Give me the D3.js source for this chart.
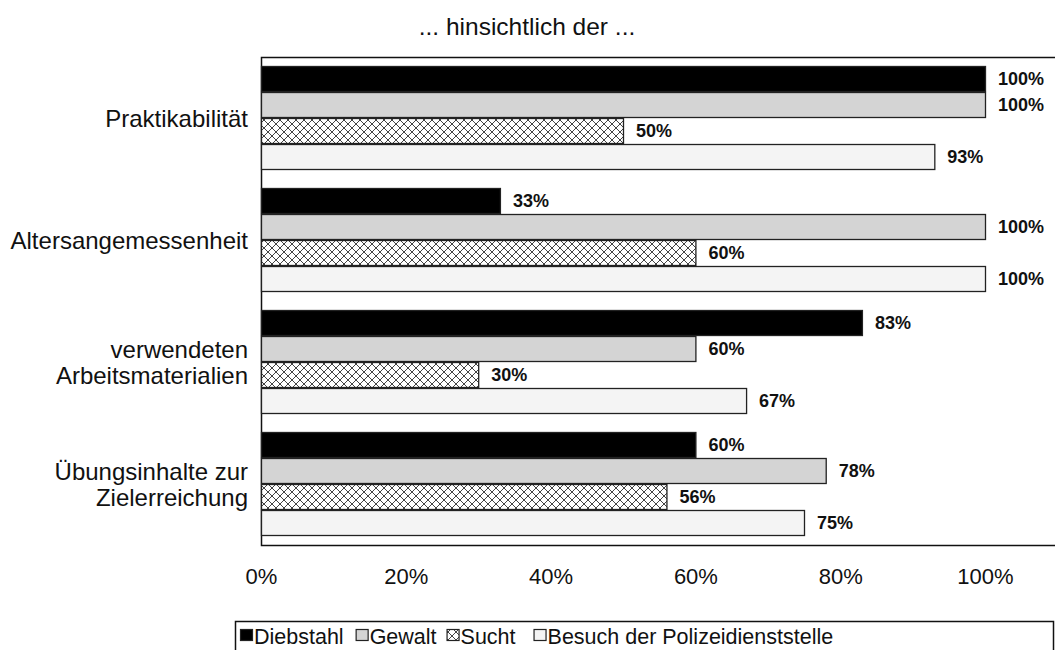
<!DOCTYPE html>
<html>
<head>
<meta charset="utf-8">
<script src="https://cdn.jsdelivr.net/npm/d3@7"></script>
<style>
  html, body { margin: 0; padding: 0; background: #fff; }
  svg { display: block; font-family: "Liberation Sans", Arial, Helvetica, sans-serif; }
</style>
</head>
<body>
<svg id="chart" width="1055" height="650"></svg>
<script>
// Categories (each label may span several lines)
const categories = ["Praktikabilität", "Altersangemessenheit", "verwendeten\nArbeitsmaterialien", "Übungsinhalte zur\nZielerreichung"];
const series = ["Diebstahl", "Gewalt", "Sucht", "Besuch der Polizeidienststelle"];
// Share per category, one array per series
const diebstahl = [1.00, 0.33, 0.83, 0.60];
const gewalt    = [1.00, 1.00, 0.60, 0.78];
const sucht     = [0.50, 0.60, 0.30, 0.56];
const besuch    = [0.93, 1.00, 0.67, 0.75];
const tickValues = [0, 0.2, 0.4, 0.6, 0.8, 1.0];
const title = "... hinsichtlich der ...";

const valuesBySeries = [diebstahl, gewalt, sucht, besuch];
const fills = ["#000000", "#d4d4d4", "url(#hatch)", "#f4f4f4"];

const svg = d3.select("#chart");
const defs = svg.append("defs");
const pat = defs.append("pattern")
  .attr("id", "hatch").attr("patternUnits", "userSpaceOnUse")
  .attr("width", 8).attr("height", 8);
pat.append("rect").attr("width", 8).attr("height", 8).attr("fill", "#fff");
pat.append("path").attr("d", "M0,0L8,8M8,0L0,8M-1,7L1,9M7,-1L9,1")
  .attr("stroke", "#444").attr("stroke-width", 1).attr("fill", "none");

const plot = { left: 261, top: 57, bottom: 545, right: 1062 };

const x = d3.scaleLinear().domain([0, 1]).range([plot.left, 985]);
const y0 = d3.scaleBand().domain(categories).range([plot.top, plot.bottom]);
const y1 = d3.scaleBand().domain(series).range([9, y0.bandwidth() - 9]);

// Title
svg.append("text")
  .attr("x", 527).attr("y", 35)
  .attr("text-anchor", "middle")
  .attr("font-size", 24.5)
  .attr("fill", "#111")
  .text(title);

// Plot frame
svg.append("rect")
  .attr("x", plot.left + 0.5).attr("y", plot.top + 0.5)
  .attr("width", plot.right - plot.left).attr("height", plot.bottom - plot.top)
  .attr("fill", "none").attr("stroke", "#111").attr("stroke-width", 1.5);

// Bars
const rows = [];
categories.forEach((c, ci) => {
  series.forEach((s, si) => {
    rows.push({ c, s, si, v: valuesBySeries[si][ci] });
  });
});

const g = svg.append("g");
g.selectAll("rect.bar").data(rows).join("rect")
  .attr("class", "bar")
  .attr("x", x(0) + 0.5)
  .attr("y", d => y0(d.c) + y1(d.s) + 0.5)
  .attr("width", d => x(d.v) - x(0))
  .attr("height", y1.bandwidth() - 1)
  .attr("fill", d => fills[d.si])
  .attr("stroke", "#222")
  .attr("stroke-width", 1.3);

// Value labels
g.selectAll("text.val").data(rows).join("text")
  .attr("class", "val")
  .attr("x", d => x(d.v) + 13)
  .attr("y", d => y0(d.c) + y1(d.s) + y1.bandwidth() / 2)
  .attr("dy", "0.36em")
  .attr("font-size", 18)
  .attr("font-weight", "bold")
  .attr("fill", "#111")
  .text(d => d3.format(".0%")(d.v));

// Category labels
const catG = svg.append("g");
categories.forEach(c => {
  const lines = c.split("\n");
  const cy = y0(c) + y0.bandwidth() / 2;
  const lh = 26;
  const t = catG.append("text")
    .attr("text-anchor", "end")
    .attr("font-size", 24)
    .attr("fill", "#111");
  lines.forEach((ln, i) => {
    t.append("tspan")
      .attr("x", 248)
      .attr("y", cy + (i - (lines.length - 1) / 2) * lh)
      .attr("dy", "0.36em")
      .text(ln);
  });
});

// X axis tick labels
const axis = d3.axisBottom(x).tickValues(tickValues).tickFormat(d3.format(".0%")).tickSize(0).tickPadding(0);
const ax = svg.append("g").attr("transform", `translate(0,${plot.bottom + 23})`).call(axis);
ax.select(".domain").remove();
ax.selectAll("text").attr("font-size", 22).attr("fill", "#111")
  .attr("font-family", "Liberation Sans, Arial, sans-serif");

// Legend
const leg = svg.append("g");
leg.append("rect")
  .attr("x", 235.5).attr("y", 621.5).attr("width", 818).attr("height", 40)
  .attr("fill", "#fff").attr("stroke", "#111").attr("stroke-width", 1.5);
let lx = 240;
const gaps = [12, 10, 18, 0];
series.forEach((s, i) => {
  leg.append("rect")
    .attr("x", lx + 0.5).attr("y", 629.5).attr("width", 12).attr("height", 11)
    .attr("fill", fills[i]).attr("stroke", "#222").attr("stroke-width", 1.2);
  const t = leg.append("text")
    .attr("x", lx + 14).attr("y", 644)
    .attr("font-size", 21.5).attr("fill", "#111")
    .text(s);
  lx += 14 + t.node().getComputedTextLength() + gaps[i];
});
</script>
</body>
</html>
